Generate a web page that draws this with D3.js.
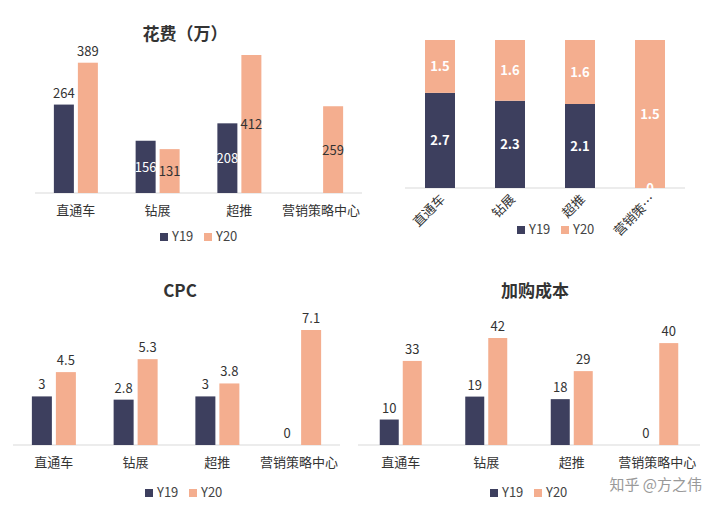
<!DOCTYPE html><html><head><meta charset="utf-8">
<script src="https://cdn.jsdelivr.net/npm/d3@7"></script>
<style>body{margin:0;background:#fff}text{font-family:"Noto Sans CJK SC","Noto Sans",sans-serif}</style></head><body>
<svg id="c" width="720" height="508"></svg>
<script>
const categories=["直通车","钻展","超推","营销策略中心"];
const roiCats=["直通车","钻展","超推","营销策…"];
const cost19=[264,156,208,null], cost20=[389,131,412,259];
const roi19=[2.7,2.3,2.1,0], roi20=[1.5,1.6,1.6,1.5];
const cpc19=[3,2.8,3,0], cpc20=[4.5,5.3,3.8,7.1];
const add19=[10,19,18,0], add20=[33,42,29,40];
const C19="#3d3f5e",C20="#f4ae8f";
const svg=d3.select("#c");
function legend(cx,y){const g=svg.append("g");
 [[C19,"Y19",cx-38],[C20,"Y20",cx+6]].forEach(([c,t,x])=>{g.append("rect").attr("x",x).attr("y",y-8).attr("width",8).attr("height",8).attr("fill",c);
 g.append("text").attr("x",x+12).attr("y",y).attr("font-size",13).attr("fill","#444").text(t);});}
function title(x,y,t){svg.append("text").attr("x",x).attr("y",y).attr("text-anchor","middle").attr("font-size",17).attr("font-weight","bold").attr("fill","#333").text(t);}
function grouped(o){
 const x=d3.scaleBand().domain(categories).range([o.x0,o.x1]).paddingInner(0).paddingOuter(0);
 const y=d3.scaleLinear().domain([0,o.max]).range([o.base,o.top]);
 const g=svg.append("g");
 g.append("line").attr("x1",o.x0).attr("x2",o.x1).attr("y1",o.base).attr("y2",o.base).attr("stroke","#d9d9d9");
 categories.forEach((c,i)=>{const cx=x(c)+x.bandwidth()/2;
  [[o.a[i],C19,cx-o.w-2],[o.b[i],C20,cx+2]].forEach(([v,col,bx],k)=>{
   if(v==null)return;
   g.append("rect").attr("x",bx).attr("y",y(v)).attr("width",o.w).attr("height",o.base-y(v)).attr("fill",col);
   let ly=o.inside&&i>0?(y(v)+o.base)/2+5:y(v)-7;
   g.append("text").attr("x",bx+o.w/2).attr("y",ly).attr("text-anchor","middle").attr("font-size",13).attr("fill",o.inside&&i>0&&k==0?"#fff":"#333").text(v);
  });
  g.append("text").attr("x",cx).attr("y",o.base+22).attr("text-anchor","middle").attr("font-size",13).attr("fill","#333").text(c);
 });}
title(185,40,"花费（万）");
grouped({x0:35,x1:362,base:193,top:55,max:412,w:20,a:cost19,b:cost20,inside:true});
legend(198,241);
title(180,297,"CPC");
grouped({x0:13,x1:340,base:445,top:330,max:7.1,w:20,a:cpc19,b:cpc20});
legend(183,497);
title(535,297,"加购成本");
grouped({x0:358,x1:700,base:445,top:338,max:42,w:19,a:add19,b:add20});
legend(528,497);
const xr=d3.scaleBand().domain(roiCats).range([405,685]);
const yr=d3.scaleLinear().domain([0,1]).range([188,40]);
svg.append("line").attr("x1",405).attr("x2",685).attr("y1",188).attr("y2",188).attr("stroke","#d9d9d9");
roiCats.forEach((c,i)=>{const cx=xr(c)+xr.bandwidth()/2,t=roi19[i]+roi20[i],p=roi19[i]/t;
 svg.append("rect").attr("x",cx-15).attr("y",yr(p)).attr("width",30).attr("height",188-yr(p)).attr("fill",C19);
 svg.append("rect").attr("x",cx-15).attr("y",yr(1)).attr("width",30).attr("height",yr(p)-yr(1)).attr("fill",C20);
 svg.append("text").attr("x",cx).attr("y",(yr(p)+188)/2+5).attr("text-anchor","middle").attr("font-size",13).attr("font-weight","bold").attr("fill","#fff").text(roi19[i]);
 svg.append("text").attr("x",cx).attr("y",(yr(p)+yr(1))/2+5).attr("text-anchor","middle").attr("font-size",13).attr("font-weight","bold").attr("fill","#fff").text(roi20[i]);
 svg.append("text").attr("transform",`translate(${cx+6},${200}) rotate(-45)`).attr("text-anchor","end").attr("font-size",13).attr("fill","#333").text(c);
});
legend(555,234);
svg.append("text").attr("x",702).attr("y",490).attr("text-anchor","end").attr("font-size",15).attr("fill","#999").text("知乎 @方之伟");
</script></body></html>
